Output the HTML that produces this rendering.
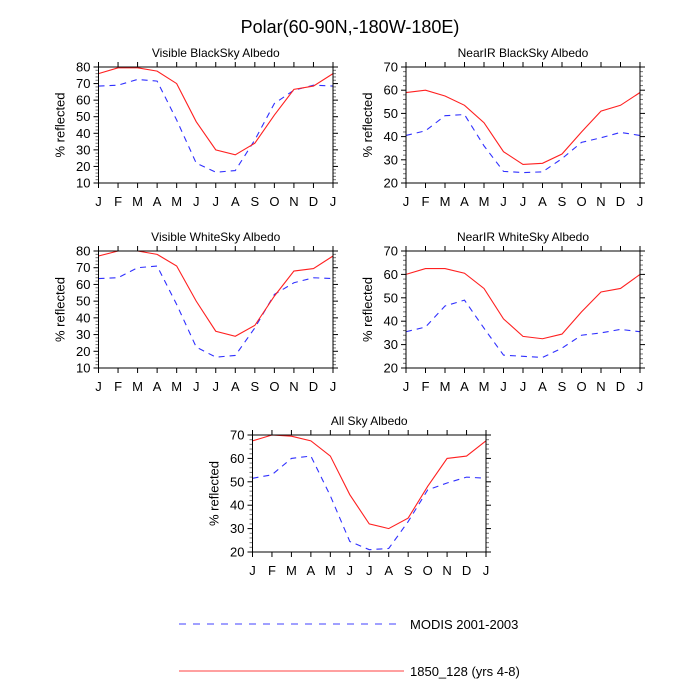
<!DOCTYPE html>
<html><head><meta charset="utf-8"><style>
html,body{margin:0;padding:0;background:#fff;}
svg{display:block;font-family:"Liberation Sans",Arial,sans-serif;}
</style></head><body>
<svg id="chart" width="700" height="700" viewBox="0 0 700 700" xmlns="http://www.w3.org/2000/svg">
<text x="350" y="33" text-anchor="middle" font-size="18" fill="#000">Polar(60-90N,-180W-180E)</text>
<g>
<line x1="179" y1="624" x2="399" y2="624" stroke="#4040ff" stroke-width="1" stroke-dasharray="7,7"/>
<text x="410" y="629" font-size="13">MODIS 2001-2003</text>
<line x1="179" y1="671" x2="404" y2="671" stroke="#ff4040" stroke-width="1"/>
<text x="410" y="676" font-size="13">1850_128 (yrs 4-8)</text>
</g>
</svg>
<script>
const months = ["J","F","M","A","M","J","J","A","S","O","N","D","J"];
const panelTitles = ["Visible BlackSky Albedo","NearIR BlackSky Albedo","Visible WhiteSky Albedo","NearIR WhiteSky Albedo","All Sky Albedo"];
const yMins = [10,20,10,20,20];
const yMaxs = [80,70,80,70,70];
const modelVisBlack = [76,79.5,79.5,77.5,70,47,30,27,34,51,66.5,68.5,76];
const modisVisBlack = [68.5,69,72.5,71.5,48,22,16.5,17.5,36,58,66,69,68.5];
const modelNirBlack = [59,60,57.5,53.5,46,33.5,28,28.5,32.5,42,51,53.5,59];
const modisNirBlack = [40.5,42.5,49,49.5,36,25,24.5,24.8,30.5,37.5,39.5,41.8,40.5];
const modelVisWhite = [77,80,80,78,71,50,32,29,35.5,53,68,69.5,77];
const modisVisWhite = [63.5,64,70,71,48,22.5,16.5,17.5,34,54,61,64,63.5];
const modelNirWhite = [60,62.5,62.5,60.5,54,41,33.5,32.5,34.5,44,52.5,54,60];
const modisNirWhite = [35.5,37.5,46.5,49,37,25.5,25,24.5,28.5,34,35,36.5,35.5];
const modelAllSky = [67.5,70,69.5,67.5,61,44.5,32,30,34.5,48,60,61,67.5];
const modisAllSky = [51.5,53,60,61,44,24.5,21,21.5,33,46.5,49.5,52,51.5];

const modelSeries = [modelVisBlack,modelNirBlack,modelVisWhite,modelNirWhite,modelAllSky];
const modisSeries = [modisVisBlack,modisNirBlack,modisVisWhite,modisNirWhite,modisAllSky];
const boxes = [[98.5,67,333,183],[406,67,640,183],[98.5,251,333,368],[406,251,640,368],[252.5,435,486,552]];
const NS="http://www.w3.org/2000/svg";
const svg=document.getElementById('chart');
function mk(tag,attrs,parent){const e=document.createElementNS(NS,tag);for(const k in attrs)e.setAttribute(k,attrs[k]);(parent||svg).appendChild(e);return e;}

boxes.forEach((b,p)=>{
  const [x0,y0,x1,y1]=b;
  const g=mk('g',{});
  
  
  const xs=i=>x0+(x1-x0)*i/(months.length-1);
  const ys=v=>y1-(y1-y0)*(v-yMins[p])/(yMaxs[p]-yMins[p]);
  const t=mk('text',{x:(x0+x1)/2,y:y0-10,'text-anchor':'middle','font-size':'12'},g);
  t.textContent=panelTitles[p];
  
  
  for(let v=yMins[p];v<=yMaxs[p];v+=2){
    const y=ys(v);const maj=(v%10===0);
    const l=maj?5:3;
    mk('line',{x1:x0-l,y1:y,x2:x0,y2:y,stroke:maj?'#000':'#777','stroke-width':1},g);
    mk('line',{x1:x1,y1:y,x2:x1+l,y2:y,stroke:maj?'#000':'#777','stroke-width':1},g);
    if(maj){const tl=mk('text',{x:x0-8,y:y+4.5,'text-anchor':'end','font-size':'13'},g);tl.textContent=v;
      
      }
  }
  months.forEach((m,i)=>{
    const x=xs(i);
    mk('line',{x1:x,y1:y1,x2:x,y2:y1+5,stroke:'#000','stroke-width':1},g);
    mk('line',{x1:x,y1:y0-5,x2:x,y2:y0,stroke:'#000','stroke-width':1},g);
    const tl=mk('text',{x:x,y:y1+23,'text-anchor':'middle','font-size':'13'},g);tl.textContent=m;
    
    
  });
  const yt=mk('text',{x:0,y:0,'text-anchor':'middle','font-size':'13',transform:`translate(${x0-34},${(y0+y1)/2}) rotate(-90)`},g);
  yt.textContent='% reflected';
  
  
  const ptsM=modisSeries[p].map((v,i)=>xs(i)+','+ys(v)).join(' ');
  const pm=mk('polyline',{points:ptsM,fill:'none',stroke:'#3030ff','stroke-width':1.1,'stroke-dasharray':'6,5'},g);
  
  
  const ptsR=modelSeries[p].map((v,i)=>xs(i)+','+ys(v)).join(' ');
  const pr=mk('polyline',{points:ptsR,fill:'none',stroke:'#ff2020','stroke-width':1.1},g);
  
  
  const r=mk('rect',{x:x0,y:y0,width:x1-x0,height:y1-y0,fill:'none',stroke:'#000','stroke-width':1},g);
  
  
});
</script>
</body></html>
